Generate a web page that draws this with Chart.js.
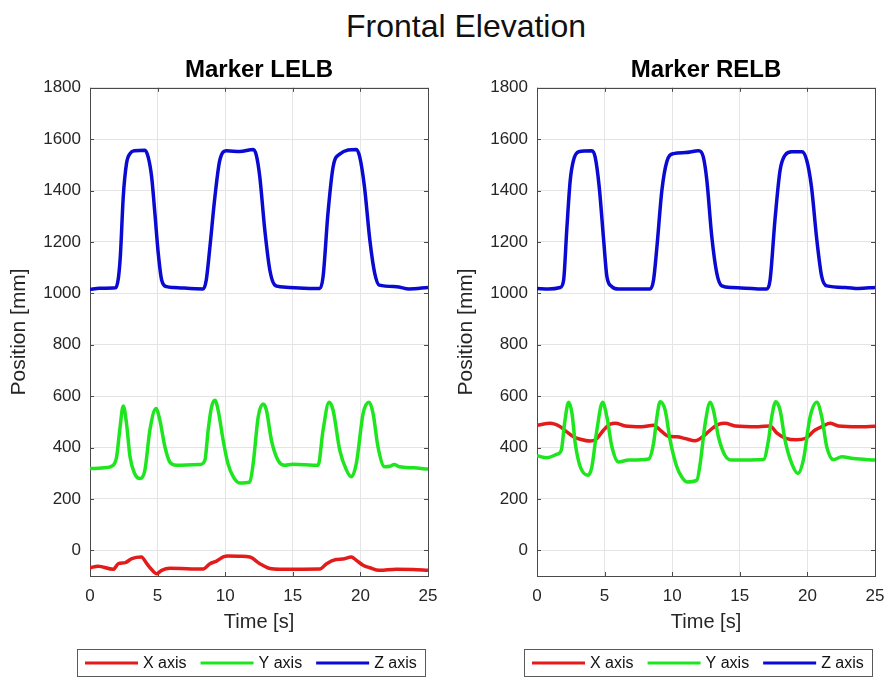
<!DOCTYPE html>
<html>
<head>
<meta charset="utf-8">
<script src="https://cdn.jsdelivr.net/npm/chart.js@4"></script>
<style>
  body { margin: 0; background: #fff; width: 889px; height: 679px; position: relative; overflow: hidden;
         font-family: "Liberation Sans", Arial, sans-serif; }
  #figTitle { position: absolute; left: 0; top: 10px; width: 932px; text-align: center;
              font-size: 32px; line-height: 32px; color: #111; }
  .panel { position: absolute; top: 0; width: 442px; height: 679px; }
</style>
</head>
<body>
<div id="figTitle">Frontal Elevation</div>
<div class="panel" style="left:0"><canvas id="lelb" width="442" height="679"></canvas></div>
<div class="panel" style="left:447px"><canvas id="relb" width="442" height="679"></canvas></div>
<script>
// [time s, position mm] samples for each marker coordinate
const lelbX = [[0,-68],[0.6,-62],[1.72,-74],[2.1,-52],[2.6,-48],[3.1,-32],[3.8,-26],[4.2,-52],[4.56,-75],[4.93,-91],
  [5.3,-78],[5.9,-70],[8.37,-73],[8.87,-52],[9.36,-42],[9.85,-26],[10.2,-22],[11.08,-23],[11.82,-26],[12.56,-52],
  [13.3,-71],[14.04,-74],[17,-73],[17.5,-52],[18.2,-36],[18.7,-34],[19.33,-26],[19.7,-39],[20.2,-58],[20.7,-68],
  [21.4,-78],[22.66,-74],[23.9,-75],[25,-78]];
const lelbY = [[0,318],[1.23,322],[1.72,331],[1.97,364],[2.2,468],[2.46,562],[2.7,494],[2.96,364],[3.3,299],[3.7,279],
  [4.06,312],[4.43,468],[4.88,552],[5.17,506],[5.54,403],[5.9,344],[6.4,331],[8.13,334],[8.5,351],[8.74,468],
  [8.99,558],[9.24,584],[9.48,545],[9.85,428],[10.2,338],[10.6,286],[11.08,262],[11.82,266],[12.07,338],[12.44,519],
  [12.81,569],[13.05,545],[13.42,428],[13.9,351],[14.4,331],[15,335],[16.87,331],[17.24,468],[17.68,576],[17.98,545],
  [18.47,390],[18.97,312],[19.33,286],[19.7,338],[20.2,532],[20.64,576],[20.94,532],[21.3,403],[21.8,325],[22.17,327],
  [22.5,334],[22.9,325],[23.9,321],[25,316]];
const lelbZ = [[0,1015],[0.7,1020],[1.9,1022],[2.1,1060],[2.25,1150],[2.46,1376],[2.7,1505],[2.96,1544],[3.3,1555],
  [4.06,1557],[4.3,1531],[4.56,1453],[4.8,1311],[5.05,1155],[5.3,1052],[5.67,1026],[6.16,1023],[8.37,1017],[8.6,1052],
  [8.87,1181],[9.24,1376],[9.6,1518],[10.1,1555],[11.08,1552],[12.07,1560],[12.3,1538],[12.56,1453],[12.93,1246],
  [13.3,1091],[13.67,1032],[14.04,1026],[17,1019],[17.24,1065],[17.6,1311],[17.98,1492],[18.47,1542],[19.7,1560],
  [19.95,1531],[20.3,1415],[20.7,1207],[21.06,1078],[21.4,1032],[22.66,1026],[23.6,1017],[25,1023]];

const relbX = [[0,487],[0.98,494],[1.72,481],[2.2,461],[2.7,442],[3.2,432],[3.94,425],[4.43,435],[4.93,468],[5.42,491],
  [5.79,494],[6.53,484],[7.76,481],[8.62,487],[9.11,468],[9.73,444],[10.34,442],[10.96,435],[11.7,426],[12.19,439],
  [12.81,468],[13.42,490],[13.9,494],[14.66,484],[16.38,481],[17.24,484],[17.73,457],[18.35,437],[19.21,430],
  [19.83,435],[20.57,468],[21.18,484],[21.67,494],[22.3,484],[23.77,481],[25,483]];
const relbY = [[0,368],[0.74,360],[1.48,374],[1.8,390],[2.04,494],[2.34,576],[2.59,532],[2.83,416],[3.2,325],[3.77,292],
  [4.06,325],[4.43,468],[4.85,576],[5.17,519],[5.54,403],[6.03,344],[6.77,351],[8.25,355],[8.62,416],[8.87,519],
  [9.11,578],[9.48,545],[9.85,428],[10.34,325],[10.7,286],[11.08,266],[11.82,273],[12.07,338],[12.44,494],[12.81,576],
  [13.05,545],[13.42,442],[13.9,370],[14.4,351],[16.75,353],[17.12,428],[17.36,519],[17.66,578],[17.98,545],
  [18.35,428],[18.84,338],[19.29,299],[19.7,351],[20.2,519],[20.7,576],[21.06,519],[21.43,403],[21.92,353],
  [22.54,364],[23.4,357],[25,351]];
const relbZ = [[0,1019],[0.86,1017],[1.72,1023],[1.97,1052],[2.2,1246],[2.46,1441],[2.7,1518],[3.08,1551],[4.06,1555],
  [4.3,1531],[4.6,1415],[4.93,1207],[5.17,1065],[5.54,1026],[6.03,1017],[8.37,1017],[8.62,1052],[8.87,1181],
  [9.24,1402],[9.6,1512],[10.1,1544],[10.96,1548],[11.95,1555],[12.3,1531],[12.56,1441],[12.93,1220],[13.3,1078],
  [13.67,1029],[14.4,1023],[17,1017],[17.24,1052],[17.6,1285],[17.98,1479],[18.35,1538],[18.84,1551],[19.6,1551],
  [19.95,1518],[20.3,1415],[20.7,1207],[21.06,1065],[21.43,1029],[22.8,1023],[23.77,1019],[25,1023]];

const seriesLabels = ['X axis', 'Y axis', 'Z axis'];
const seriesColors = ['#e31b1b', '#1ee61e', '#0a0ad2'];
const timeTicks = [0, 5, 10, 15, 20, 25];
const FONT = '"Liberation Sans", Arial, sans-serif';

// box around the axes with small inward ticks on all four sides
const axesFrame = {
  id: 'axesFrame',
  beforeDatasetsDraw(chart) {
    const { ctx, chartArea: { left, top, right, bottom }, scales: { x, y } } = chart;
    const tl = 4;
    ctx.save();
    ctx.strokeStyle = '#4a4a4a';
    ctx.lineWidth = 1;
    ctx.strokeRect(Math.round(left) + 0.5, Math.round(top) + 0.5, Math.round(right - left), Math.round(bottom - top));
    ctx.beginPath();
    x.ticks.forEach(t => {
      const px = Math.round(x.getPixelForValue(t.value)) + 0.5;
      ctx.moveTo(px, bottom); ctx.lineTo(px, bottom - tl);
      ctx.moveTo(px, top); ctx.lineTo(px, top + tl);
    });
    y.ticks.forEach(t => {
      const py = Math.round(y.getPixelForValue(t.value)) + 0.5;
      ctx.moveTo(left, py); ctx.lineTo(left + tl, py);
      ctx.moveTo(right, py); ctx.lineTo(right - tl, py);
    });
    ctx.stroke();
    ctx.restore();
  }
};

// boxed horizontal legend under the time axis
const boxLegend = {
  id: 'boxLegend',
  afterDraw(chart) {
    const { ctx, chartArea } = chart;
    const sets = chart.data.datasets;
    const lineW = 53, gap = 5, itemGap = 14, padX = 8, h = 27;
    ctx.save();
    ctx.font = '16px ' + FONT;
    const widths = sets.map(d => ctx.measureText(d.label).width);
    const total = padX * 2 + sets.length * (lineW + gap) + widths.reduce((a, b) => a + b, 0) + itemGap * (sets.length - 1);
    const cx = (chartArea.left + chartArea.right) / 2 - 8;
    const x0 = Math.round(cx - total / 2);
    const y0 = Math.round(chartArea.bottom + 73);
    ctx.strokeStyle = '#5a5a5a';
    ctx.lineWidth = 1;
    ctx.strokeRect(x0 + 0.5, y0 + 0.5, Math.round(total), h);
    const my = y0 + h / 2 + 0.5;
    let x = x0 + padX;
    sets.forEach((d, i) => {
      ctx.strokeStyle = d.borderColor;
      ctx.lineWidth = 3;
      ctx.beginPath();
      ctx.moveTo(x, my);
      ctx.lineTo(x + lineW, my);
      ctx.stroke();
      x += lineW + gap;
      ctx.fillStyle = '#111';
      ctx.textBaseline = 'middle';
      ctx.fillText(d.label, x, my + 1);
      x += widths[i] + itemGap;
    });
    ctx.restore();
  }
};

const toPoints = arr => arr.map(([t, v]) => ({ x: t, y: v }));

function makeChart(id, title, series) {
  return new Chart(document.getElementById(id), {
    type: 'line',
    data: {
      datasets: series.map((s, i) => ({
        label: seriesLabels[i],
        data: toPoints(s),
        borderColor: seriesColors[i],
        order: series.length - i   // Z drawn on top
      }))
    },
    options: {
      responsive: false,
      animation: false,
      layout: { padding: { left: 7, right: 14, top: 0, bottom: 45 } },
      elements: {
        point: { radius: 0 },
        line: { borderWidth: 3.5, cubicInterpolationMode: 'monotone' }
      },
      plugins: {
        legend: { display: false },
        tooltip: { enabled: false },
        title: {
          display: true, text: title, color: '#000', fullSize: false,
          font: { family: FONT, size: 24, weight: 'bold' },
          padding: { top: 56, bottom: 3 }
        }
      },
      scales: {
        x: {
          type: 'linear', min: 0, max: 25,
          afterBuildTicks: s => { s.ticks = timeTicks.map(v => ({ value: v })); },
          ticks: { padding: 10, color: '#262626', font: { family: FONT, size: 17 } },
          grid: { color: '#e4e4e4', drawTicks: false },
          border: { display: false },
          title: { display: true, text: 'Time [s]', color: '#262626', padding: 0, font: { family: FONT, size: 20 } },
          afterFit: s => { s.height = 58; s.paddingLeft = 0; s.paddingRight = 0; }
        },
        y: {
          min: -100, max: 1800,
          afterBuildTicks: s => { s.ticks = s.ticks.filter(t => t.value % 200 === 0); },
          ticks: { stepSize: 200, padding: 9, color: '#262626', font: { family: FONT, size: 17 },
                   callback: v => String(v) },
          grid: { color: '#e4e4e4', drawTicks: false },
          border: { display: false },
          title: { display: true, text: 'Position [mm]', color: '#262626', padding: 0, font: { family: FONT, size: 21 } },
          afterFit: s => { s.width = 83; }
        }
      }
    },
    plugins: [axesFrame, boxLegend]
  });
}

makeChart('lelb', 'Marker LELB', [lelbX, lelbY, lelbZ]);
makeChart('relb', 'Marker RELB', [relbX, relbY, relbZ]);
</script>
</body>
</html>
